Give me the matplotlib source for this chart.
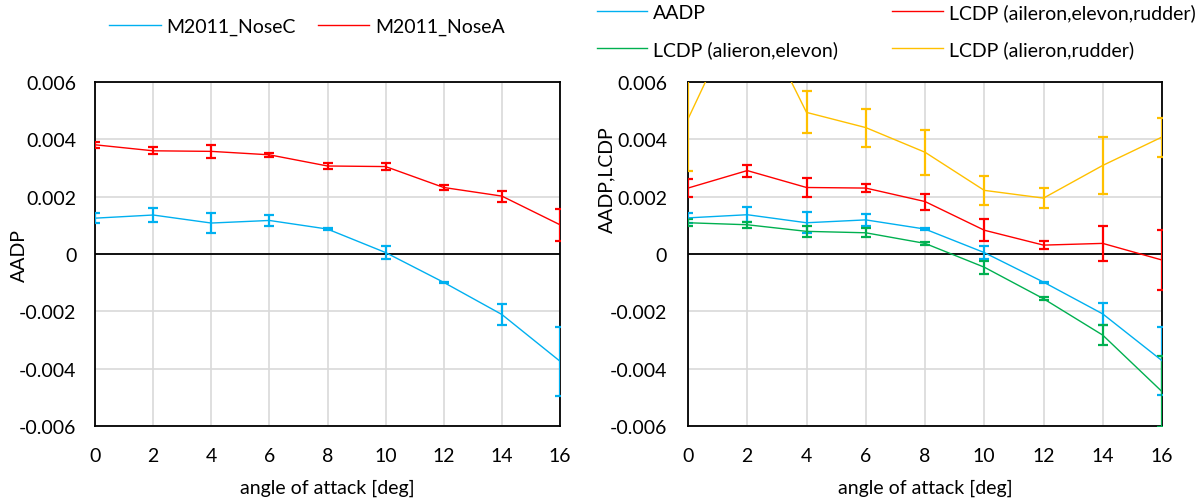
import numpy as np
import matplotlib
matplotlib.use('Agg')
import matplotlib.pyplot as plt

plt.rcParams['font.family'] = ['Lato', 'DejaVu Sans']
plt.rcParams['font.size'] = 14

# dados
aoa = [0, 2, 4, 6, 8, 10, 12, 14, 16]

nose_c = [0.00125, 0.00136, 0.00108, 0.00117, 0.00087, 0.00005, -0.00099, -0.00211, -0.00374]
nose_c_err = [0.00017, 0.00026, 0.00036, 0.00020, 0.00003, 0.00022, 0.00002, 0.00036, 0.00120]
nose_a = [0.00381, 0.00360, 0.00358, 0.00346, 0.00307, 0.00305, 0.00232, 0.00202, 0.00102]
nose_a_err = [0.00010, 0.00012, 0.00023, 0.00006, 0.00012, 0.00013, 0.00010, 0.00019, 0.00055]

aadp = [0.00126, 0.00137, 0.00109, 0.00119, 0.00087, 0.00005, -0.00098, -0.00209, -0.00372]
aadp_err = [0.00017, 0.00026, 0.00036, 0.00020, 0.00003, 0.00024, 0.00002, 0.00037, 0.00119]
lcdp_aer = [0.00230, 0.00291, 0.00232, 0.00230, 0.00183, 0.00083, 0.00031, 0.00037, -0.00021]
lcdp_aer_err = [0.00030, 0.00021, 0.00032, 0.00015, 0.00028, 0.00038, 0.00015, 0.00062, 0.00106]
lcdp_ae = [0.00109, 0.00102, 0.00079, 0.00074, 0.00037, -0.00046, -0.00156, -0.00283, -0.00480]
lcdp_ae_err = [0.00013, 0.00011, 0.00019, 0.00015, 0.00005, 0.00023, 0.00005, 0.00036, 0.00125]
lcdp_ar = [0.00471, 0.00910, 0.00494, 0.00441, 0.00355, 0.00222, 0.00195, 0.00309, 0.00408]
lcdp_ar_err = [0.00180, 0.00080, 0.00073, 0.00066, 0.00079, 0.00050, 0.00034, 0.00100, 0.00068]

xticks = [0, 2, 4, 6, 8, 10, 12, 14, 16]
yticks = [-0.006, -0.004, -0.002, 0, 0.002, 0.004, 0.006]
ylabels = ['-0.006', '-0.004', '-0.002', '0', '0.002', '0.004', '0.006']

BLUE = '#00B0F0'
RED = '#FF0000'
GREEN = '#00B050'
YELLOW = '#FFC000'


def serie(ax, y, err, cor, nome):
    ax.errorbar(aoa, y, yerr=err, color=cor, lw=1.0, elinewidth=1.6,
                capsize=3.6, capthick=1.6, label=nome, zorder=3)


def estilo(ax, ylab, ypad):
    ax.set_xlim(0, 16)
    ax.set_ylim(-0.006, 0.006)
    ax.set_xticks(xticks)
    ax.set_yticks(yticks)
    ax.set_yticklabels(ylabels)
    ax.grid(True, color='#d9d9d9', lw=1.2)
    ax.set_axisbelow(True)
    ax.axhline(0, color='black', lw=1.3, zorder=1.5)
    for s in ax.spines.values():
        s.set_color('black')
        s.set_linewidth(1.3)
        s.set_zorder(2)
    ax.tick_params(axis='both', length=0)
    ax.tick_params(axis='y', pad=ypad)
    ax.tick_params(axis='x', pad=15)
    ax.set_xlabel('angle of attack [deg]', va='center')
    ax.xaxis.set_label_coords(0.5, -0.177)
    ax.set_ylabel(ylab, va='center')


fig = plt.figure(figsize=(12.02, 5.02), dpi=100)
ax1 = fig.add_axes([95/1202, 75/502, 465/1202, 344/502])
ax2 = fig.add_axes([688/1202, 75/502, 474/1202, 344/502])

serie(ax1, nose_c, nose_c_err, BLUE, 'M2011_NoseC')
serie(ax1, nose_a, nose_a_err, RED, 'M2011_NoseA')
estilo(ax1, 'AADP', 13.5)
ax1.yaxis.set_label_coords(-0.163, 0.5)

serie(ax2, aadp, aadp_err, BLUE, 'AADP')
serie(ax2, lcdp_aer, lcdp_aer_err, RED, 'LCDP (aileron,elevon,rudder)')
serie(ax2, lcdp_ae, lcdp_ae_err, GREEN, 'LCDP (alieron,elevon)')
serie(ax2, lcdp_ar, lcdp_ar_err, YELLOW, 'LCDP (alieron,rudder)')
estilo(ax2, 'AADP,LCDP', 15)
ax2.yaxis.set_label_coords(-0.171, 0.718)

# legendas
h, l = ax1.get_legend_handles_labels()
h = [x[0] for x in h]
fig.legend(h, l, loc='center', bbox_to_anchor=(307/1202, 1 - 27/502), ncol=2,
           frameon=False, handlelength=2.67, handletextpad=0.3, columnspacing=1.1)

h, l = ax2.get_legend_handles_labels()
h = [x[0] for x in h]
ordem = [0, 2, 1, 3]
fig.legend([h[i] for i in ordem], [l[i] for i in ordem], loc='center',
           bbox_to_anchor=(896/1202, 1 - 31.5/502), ncol=2, frameon=False,
           handlelength=2.6, handletextpad=0.3, columnspacing=2.8, labelspacing=1.0)

plt.savefig('out.png', dpi=100)
